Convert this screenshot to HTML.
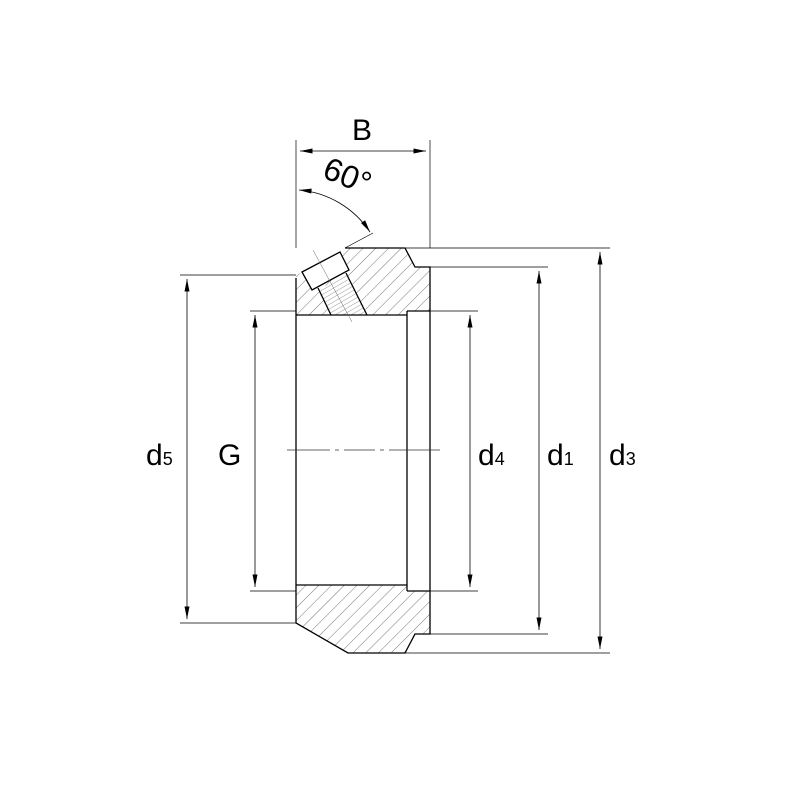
<!DOCTYPE html>
<html><head><style>html,body{margin:0;padding:0;background:#fff}svg{display:block}</style></head>
<body>
<svg width="800" height="800" viewBox="0 0 800 800" xmlns="http://www.w3.org/2000/svg" font-family="Liberation Sans, sans-serif">
<defs>
<pattern id="h" width="9" height="9" patternUnits="userSpaceOnUse" patternTransform="rotate(45)">
<line x1="0" y1="0" x2="0" y2="9" stroke="#555" stroke-width="0.8"/>
</pattern>
<pattern id="h2" width="4" height="4" patternUnits="userSpaceOnUse" patternTransform="rotate(60)">
<line x1="0" y1="0" x2="0" y2="4" stroke="#555" stroke-width="0.6"/>
</pattern>
<marker id="a" viewBox="0 0 10 4" refX="10" refY="2" markerWidth="14" markerHeight="5" markerUnits="userSpaceOnUse" orient="auto-start-reverse"><path d="M0,0L10,2L0,4z" fill="#000"/></marker>
</defs>
<path d="M296,275 L303,272 L340,253 L345,248 L405,248 L415,267 L430,267 L430,311 L407,311 L407,315 L296,315 Z" fill="url(#h)"/>
<path d="M296,585 L407,585 L407,591 L430,591 L430,634 L415,634 L405,653 L348,653 L296,623 Z" fill="url(#h)"/>
<path d="M318,290 L346,274 L368,315 L331,315 Z" fill="#fff"/>
<path d="M318,290 L346,274 L368,315 L331,315 Z" fill="url(#h2)"/>
<path d="M302,272 L340,252 L349,270 L312,290 Z" fill="#fff"/>
<g fill="none" stroke="#000" stroke-width="1.3">
<path d="M345,248 L405,248 L415,267 L430,267 L430,634 L415,634 L405,653 L348,653 L296,623 L296,278"/>
<path d="M296,315 L407,315 M296,585 L407,585 M407,311 L407,591 M407,311 L430,311 M407,591 L430,591"/>
<path d="M302,272 L340,252 L349,270 L312,290 Z"/>
<path d="M318,288 L331,315 M346,273 L367,315"/>
</g>
<g fill="none" stroke="#000" stroke-width="0.7">
<path d="M296,248 V140 M430,248 V140"/>
<path d="M405,248 H610 M430,267 H548 M430,311 H478 M430,591 H478 M430,634 H548 M405,653 H610"/>
<path d="M296,311 H250 M296,591 H250 M296,275 H180 M296,623 H180"/>
<path d="M345,248 L373,233"/>
<path d="M313,250 L352,322" stroke="#666" stroke-width="0.5"/>
<path d="M287,450 H330 M335,450 H339 M344,450 H375 M380,450 H384 M389,450 H440" stroke="#333"/>
</g>
<g fill="none" stroke="#000" stroke-width="0.8">
<line x1="300" y1="151" x2="426" y2="151" marker-start="url(#a)" marker-end="url(#a)"/>
<path d="M299,190 A95,95 0 0 1 370,232" marker-start="url(#a)" marker-end="url(#a)"/>
<line x1="187" y1="279" x2="187" y2="619" marker-start="url(#a)" marker-end="url(#a)"/>
<line x1="255" y1="315" x2="255" y2="587" marker-start="url(#a)" marker-end="url(#a)"/>
<line x1="470" y1="315" x2="470" y2="587" marker-start="url(#a)" marker-end="url(#a)"/>
<line x1="539" y1="271" x2="539" y2="630" marker-start="url(#a)" marker-end="url(#a)"/>
<line x1="600" y1="252" x2="600" y2="649" marker-start="url(#a)" marker-end="url(#a)"/>
</g>
<g font-size="30" fill="#000">
<text x="352" y="140">B</text>
<text x="322" y="188" font-size="32" transform="rotate(22 350 180)">60°</text>
<text x="146" y="465">d<tspan font-size="18">5</tspan></text>
<text x="218" y="465">G</text>
<text x="478" y="465">d<tspan font-size="18">4</tspan></text>
<text x="547" y="465">d<tspan font-size="18">1</tspan></text>
<text x="609" y="465">d<tspan font-size="18">3</tspan></text>
</g>
</svg>
</body></html>
